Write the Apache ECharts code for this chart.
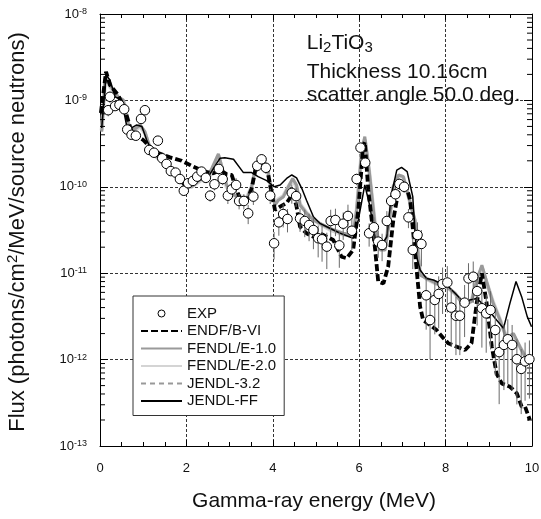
<!DOCTYPE html>
<html>
<head>
<meta charset="utf-8">
<script src="https://cdn.jsdelivr.net/npm/echarts@6/dist/echarts.min.js"></script>
<style>
html, body { margin: 0; padding: 0; background: #fff; }
#chart { width: 541px; height: 519px; }
</style>
</head>
<body>
<div id="chart"></div>
<script>
// measured points (EXP)
var expX = [0.19, 0.23, 0.35, 0.45, 0.56, 0.63, 0.73, 0.83, 0.95, 1.04,
    1.14, 1.25, 1.34, 1.44, 1.54, 1.64, 1.75, 1.85, 1.94, 2.04,
    2.15, 2.25, 2.35, 2.45, 2.55, 2.65, 2.75, 2.84, 2.96, 3.05,
    3.15, 3.22, 3.33, 3.43, 3.55, 3.64, 3.74, 3.84, 3.94, 4.03,
    4.14, 4.24, 4.34, 4.44, 4.54, 4.63, 4.74, 4.84, 4.94, 5.05,
    5.14, 5.25, 5.34, 5.45, 5.54, 5.63, 5.74, 5.83, 5.94, 6.03,
    6.14, 6.23, 6.34, 6.44, 6.53, 6.64, 6.74, 6.84, 6.93, 7.04,
    7.14, 7.24, 7.35, 7.44, 7.55, 7.64, 7.75, 7.84, 7.93, 8.04,
    8.13, 8.24, 8.33, 8.44, 8.53, 8.64, 8.73, 8.84, 8.94, 9.04,
    9.15, 9.24, 9.35, 9.44, 9.54, 9.65, 9.75, 9.84, 9.94]
var expY = [7.7e-10, 1.10e-9, 8.6e-10, 8.9e-10, 7.9e-10, 4.6e-10, 4.0e-10, 3.9e-10, 6.1e-10, 7.7e-10,
    2.67e-10, 2.48e-10, 3.42e-10, 2.14e-10, 1.84e-10, 1.52e-10, 1.46e-10, 1.23e-10, 9.0e-11, 1.10e-10,
    1.17e-10, 1.31e-10, 1.50e-10, 1.27e-10, 7.9e-11, 1.07e-10, 1.61e-10, 1.23e-10, 7.9e-11, 9.35e-11,
    1.05e-10, 6.85e-11, 6.85e-11, 4.93e-11, 7.7e-11, 1.75e-10, 2.08e-10, 1.66e-10, 7.9e-11, 2.22e-11,
    3.88e-11, 4.84e-11, 4.24e-11, 8.5e-11, 7.8e-11, 4.3e-11, 4.02e-11, 3.61e-11, 3.16e-11, 2.54e-11,
    2.47e-11, 2.03e-11, 4.02e-11, 4.13e-11, 2.1e-11, 3.74e-11, 4.6e-11, 3.1e-11, 1.23e-10, 2.84e-10,
    1.90e-10, 2.9e-11, 3.4e-11, 2.32e-11, 2.12e-11, 4.02e-11, 6.85e-11, 8.2e-11, 1.08e-10, 1.0e-10,
    4.43e-11, 1.86e-11, 2.77e-11, 2.18e-11, 5.55e-12, 2.87e-12, 4.9e-12, 5.75e-12, 7.5e-12, 7.8e-12,
    4.0e-12, 3.22e-12, 3.22e-12, 4.56e-12, 8.7e-12, 9.1e-12, 6.2e-12, 3.93e-12, 3.43e-12, 3.75e-12,
    2.2e-12, 1.22e-12, 1.48e-12, 1.72e-12, 1.48e-12, 1.01e-12, 7.8e-13, 9.55e-13, 1.01e-12]
// relative errors of EXP
var expErr = [0.15, 0.15, 0.1, 0.1, 0.1, 0.1, 0.1, 0.1, 0.1, 0.1,
    0.1, 0.1, 0.1, 0.1, 0.1, 0.1, 0.1, 0.1, 0.1, 0.1,
    0.1, 0.1, 0.1, 0.12, 0.15, 0.15, 0.15, 0.15, 0.2, 0.2,
    0.2, 0.2, 0.2, 0.25, 0.2, 0.15, 0.15, 0.15, 0.2, 0.35,
    0.3, 0.3, 0.3, 0.25, 0.25, 0.3, 0.35, 0.35, 0.4, 0.4,
    0.45, 0.45, 0.35, 0.35, 0.45, 0.35, 0.35, 0.4, 0.15, 0.1,
    0.12, 0.3, 0.3, 0.35, 0.35, 0.3, 0.2, 0.2, 0.15, 0.15,
    0.25, 0.4, 0.4, 0.45, 0.6, 0.65, 0.6, 0.6, 0.55, 0.55,
    0.65, 0.65, 0.65, 0.6, 0.5, 0.5, 0.6, 0.65, 0.65, 0.65,
    0.7, 0.75, 0.7, 0.7, 0.7, 0.7, 0.7, 0.65, 0.65]

var endf = [[0.02, 7.15e-10], [0.14, 2.15e-9], [0.23, 1.51e-9], [0.42, 1.155e-9], [0.58, 7.7e-10], [0.73, 4.34e-10],
    [1.0, 3.48e-10], [1.27, 2.55e-10], [1.62, 2.19e-10], [1.89, 2.0e-10], [2.16, 1.71e-10], [2.43, 1.50e-10],
    [2.62, 1.43e-10], [2.78, 1.56e-10], [2.93, 1.4e-10], [3.05, 1.37e-10], [3.16, 9.2e-11], [3.24, 7.4e-11],
    [3.40, 7.0e-11], [3.51, 9.5e-11], [3.61, 1.7e-10], [3.74, 1.9e-10], [3.86, 1.7e-10], [3.97, 8.5e-11],
    [4.05, 5.4e-11], [4.17, 5.9e-11], [4.32, 6.5e-11], [4.47, 8.4e-11], [4.55, 5.9e-11], [4.63, 3.45e-11],
    [4.78, 2.9e-11], [4.94, 2.64e-11], [5.09, 2.9e-11], [5.40, 2.42e-11], [5.59, 1.55e-11], [5.71, 1.49e-11],
    [5.86, 1.86e-11], [5.98, 5.4e-11], [6.09, 2.9e-10], [6.13, 3.3e-10], [6.21, 9.2e-11], [6.37, 1.86e-11],
    [6.44, 8.0e-12], [6.56, 7.6e-12], [6.67, 1.19e-11], [6.79, 4.13e-11], [6.91, 9.2e-11], [7.06, 1.15e-10],
    [7.18, 7.0e-11], [7.33, 1.09e-11], [7.41, 4.1e-12], [7.48, 2.87e-12], [7.64, 2.51e-12], [7.79, 2.2e-12],
    [7.95, 1.77e-12], [8.06, 1.55e-12], [8.26, 1.41e-12], [8.45, 1.29e-12], [8.60, 1.55e-12], [8.72, 4.5e-12],
    [8.84, 1.0e-11], [8.95, 4.5e-12], [9.07, 1.41e-12], [9.18, 6.9e-13], [9.30, 5.3e-13], [9.49, 4.85e-13],
    [9.65, 4.07e-13], [9.76, 2.85e-13], [9.84, 2.85e-13], [9.95, 2.0e-13]]

var fendl1 = [[0.04, 4.34e-10], [0.12, 1.82e-9], [0.23, 1.51e-9], [0.42, 1.10e-9], [0.54, 1.01e-9], [0.66, 5.2e-10],
    [0.77, 4.54e-10], [0.93, 5.2e-10], [1.04, 4.34e-10], [1.16, 2.79e-10], [1.31, 2.23e-10], [1.54, 1.87e-10],
    [1.78, 1.43e-10], [1.97, 1.0e-10], [2.12, 1.0e-10], [2.35, 1.25e-10], [2.47, 1.25e-10], [2.59, 1.64e-10],
    [2.74, 2.4e-10], [2.82, 1.71e-10], [2.93, 1.05e-10], [3.09, 8.1e-11], [3.24, 7.4e-11], [3.40, 7.2e-11],
    [3.51, 1.0e-10], [3.61, 1.79e-10], [3.74, 1.99e-10], [3.86, 1.79e-10], [3.97, 9.2e-11], [4.05, 6.15e-11],
    [4.13, 7.0e-11], [4.24, 7.6e-11], [4.36, 1.0e-10], [4.46, 1.25e-10], [4.55, 1.05e-10], [4.63, 6.15e-11],
    [4.78, 4.93e-11], [4.94, 4.13e-11], [5.09, 3.78e-11], [5.32, 3.31e-11], [5.63, 2.9e-11], [5.86, 2.77e-11],
    [5.94, 5.4e-11], [6.06, 2.67e-10], [6.13, 3.8e-10], [6.23, 1.56e-10], [6.37, 3.45e-11], [6.48, 1.86e-11],
    [6.60, 1.86e-11], [6.70, 4.13e-11], [6.79, 1.0e-10], [6.91, 1.37e-10], [7.02, 1.31e-10], [7.14, 7.7e-11],
    [7.29, 4.13e-11], [7.41, 9.5e-12], [7.56, 8.7e-12], [7.79, 7.6e-12], [8.03, 7.0e-12], [8.22, 5.85e-12],
    [8.41, 4.3e-12], [8.60, 4.68e-12], [8.72, 8.35e-12], [8.84, 1.24e-11], [8.95, 8.0e-12], [9.10, 4.5e-12],
    [9.26, 2.87e-12], [9.41, 1.77e-12], [9.57, 2.01e-12], [9.72, 1.41e-12], [9.84, 1.08e-12], [9.95, 9.9e-13]]

var fendl2 = [[0.04, 4.5e-10], [0.12, 1.75e-9], [0.23, 1.45e-9], [0.42, 1.08e-9], [0.54, 9.8e-10], [0.66, 5.3e-10],
    [0.77, 4.4e-10], [0.93, 5.0e-10], [1.04, 4.2e-10], [1.16, 2.7e-10], [1.31, 2.2e-10], [1.54, 1.85e-10],
    [1.78, 1.4e-10], [1.97, 1.0e-10], [2.12, 1.0e-10], [2.35, 1.2e-10], [2.47, 1.15e-10], [2.59, 1.5e-10],
    [2.74, 2.3e-10], [2.82, 1.65e-10], [2.93, 1.0e-10], [3.09, 8.0e-11], [3.24, 7.8e-11], [3.40, 7.5e-11],
    [3.51, 1.0e-10], [3.61, 1.7e-10], [3.74, 1.95e-10], [3.86, 1.75e-10], [3.97, 9.0e-11], [4.05, 6.5e-11],
    [4.13, 7.2e-11], [4.24, 7.8e-11], [4.36, 1.0e-10], [4.46, 1.2e-10], [4.55, 1.0e-10], [4.63, 6.3e-11],
    [4.78, 5.0e-11], [4.94, 4.2e-11], [5.09, 3.7e-11], [5.32, 3.2e-11], [5.63, 2.8e-11], [5.86, 2.7e-11],
    [5.94, 5.2e-11], [6.06, 2.6e-10], [6.13, 3.5e-10], [6.23, 1.5e-10], [6.37, 3.5e-11], [6.48, 2.0e-11],
    [6.60, 2.0e-11], [6.70, 4.2e-11], [6.79, 1.0e-10], [6.91, 1.35e-10], [7.02, 1.3e-10], [7.14, 7.8e-11],
    [7.29, 4.0e-11], [7.41, 1.0e-11], [7.56, 8.6e-12], [7.79, 7.5e-12], [8.03, 6.9e-12], [8.22, 5.8e-12],
    [8.41, 4.4e-12], [8.60, 4.8e-12], [8.72, 8.0e-12], [8.84, 1.15e-11], [8.95, 7.8e-12], [9.10, 4.6e-12],
    [9.26, 2.9e-12], [9.41, 1.8e-12], [9.57, 1.9e-12], [9.72, 1.4e-12], [9.84, 1.1e-12], [9.95, 1.0e-12]]

var jendl32 = [[0.04, 4.4e-10], [0.12, 1.8e-9], [0.23, 1.5e-9], [0.42, 1.1e-9], [0.54, 1.0e-9], [0.66, 5.2e-10],
    [0.77, 4.5e-10], [0.93, 5.1e-10], [1.04, 4.3e-10], [1.16, 2.8e-10], [1.31, 2.2e-10], [1.54, 1.86e-10],
    [1.78, 1.42e-10], [1.97, 1.0e-10], [2.12, 1.0e-10], [2.35, 1.24e-10], [2.47, 1.22e-10], [2.59, 1.6e-10],
    [2.74, 2.35e-10], [2.82, 1.7e-10], [2.93, 1.04e-10], [3.09, 8.1e-11], [3.24, 7.5e-11], [3.40, 7.3e-11],
    [3.51, 1.0e-10], [3.61, 1.78e-10], [3.74, 1.98e-10], [3.86, 1.78e-10], [3.97, 9.1e-11], [4.05, 6.2e-11],
    [4.13, 7.0e-11], [4.24, 7.6e-11], [4.36, 1.0e-10], [4.46, 1.24e-10], [4.55, 1.04e-10], [4.63, 6.2e-11],
    [4.78, 4.9e-11], [4.94, 4.1e-11], [5.09, 3.75e-11], [5.32, 3.3e-11], [5.63, 2.9e-11], [5.86, 2.75e-11],
    [5.94, 5.3e-11], [6.06, 2.65e-10], [6.13, 3.7e-10], [6.23, 1.55e-10], [6.37, 3.4e-11], [6.48, 1.9e-11],
    [6.60, 1.9e-11], [6.70, 4.1e-11], [6.79, 1.0e-10], [6.91, 1.36e-10], [7.02, 1.3e-10], [7.14, 7.6e-11],
    [7.29, 4.1e-11], [7.41, 9.6e-12], [7.56, 8.7e-12], [7.79, 7.6e-12], [8.03, 7.0e-12], [8.22, 5.8e-12],
    [8.41, 4.3e-12], [8.60, 4.7e-12], [8.72, 8.3e-12], [8.84, 1.22e-11], [8.95, 8.0e-12], [9.10, 4.5e-12],
    [9.26, 2.9e-12], [9.41, 1.8e-12], [9.57, 2.0e-12], [9.72, 1.4e-12], [9.84, 1.08e-12], [9.95, 1.0e-12]]

var jendlff = [[0.04, 4.8e-10], [0.14, 1.97e-9], [0.23, 1.72e-9], [0.35, 1.10e-9], [0.50, 1.01e-9], [0.62, 5.0e-10],
    [0.73, 4.8e-10], [0.85, 5.2e-10], [0.97, 5.0e-10], [1.08, 3.48e-10], [1.23, 2.44e-10], [1.47, 2.04e-10],
    [1.70, 1.56e-10], [1.93, 1.05e-10], [2.08, 1.0e-10], [2.31, 1.20e-10], [2.51, 1.31e-10], [2.70, 1.87e-10],
    [2.78, 2.14e-10], [2.89, 2.17e-10], [3.09, 2.08e-10], [3.32, 1.46e-10], [3.51, 1.46e-10], [3.66, 1.31e-10],
    [3.86, 1.18e-10], [4.03, 1.0e-10], [4.17, 1.05e-10], [4.32, 1.25e-10], [4.44, 1.37e-10], [4.55, 1.27e-10],
    [4.67, 9.6e-11], [4.78, 7.0e-11], [4.94, 4.5e-11], [5.09, 3.78e-11], [5.32, 3.31e-11], [5.56, 2.9e-11],
    [5.86, 2.54e-11], [5.98, 4.13e-11], [6.13, 1.05e-10], [6.25, 5.9e-11], [6.37, 2.42e-11], [6.52, 2.12e-11],
    [6.64, 2.64e-11], [6.75, 8.4e-11], [6.87, 1.56e-10], [6.98, 1.68e-10], [7.11, 1.50e-10], [7.24, 7.7e-11],
    [7.33, 1.55e-11], [7.41, 1.09e-11], [7.56, 8.7e-12], [7.72, 8.35e-12], [7.91, 7.5e-12], [8.06, 7.0e-12],
    [8.22, 5.85e-12], [8.41, 4.68e-12], [8.56, 4.9e-12], [8.72, 5.1e-12], [8.84, 4.5e-12], [8.99, 3.75e-12],
    [9.18, 2.87e-12], [9.34, 2.3e-12], [9.49, 4.5e-12], [9.63, 8.0e-12], [9.76, 5.35e-12], [9.89, 3.14e-12],
    [9.99, 2.4e-12]]

var legendNames = ['EXP', 'ENDF/B-VI', 'FENDL/E-1.0', 'FENDL/E-2.0', 'JENDL-3.2', 'JENDL-FF']
// log minor ticks: 2..9 x 10^n
var decades = [-13, -12, -11, -10, -9]
var minorMult = [2, 3, 4, 5, 6, 7, 8, 9]

var FONT = "'Liberation Sans', Arial, sans-serif"

var minorTicks = []
decades.forEach(function (d) {
    minorMult.forEach(function (m) {
        minorTicks.push([0, m * Math.pow(10, d)])
    })
})

var errData = expX.map(function (x, i) {
    return [x, expY[i] * (1 - expErr[i]), expY[i] * (1 + expErr[i])]
})
var expData = expX.map(function (x, i) { return [x, expY[i]] })

// legend: lines without the symbol dot, small open circle for EXP
var legendData = legendNames.map(function (n) {
    if (n === 'EXP') {
        return { name: n, itemStyle: { color: '#fff', borderColor: '#000', borderWidth: 1 } }
    }
    return { name: n, itemStyle: { opacity: 0 } }
})

var myChart = echarts.init(document.getElementById('chart'))

var axisCommonX = {
    type: 'value',
    min: 0,
    max: 10,
    interval: 2,
    axisLine: { show: true, onZero: false, lineStyle: { color: '#000', width: 1 } },
    axisTick: { show: true, inside: true, length: 6, lineStyle: { color: '#000' } },
    minorTick: { show: true, splitNumber: 4, length: 4, lineStyle: { color: '#000' } }
}

option = {
    animation: false,
    backgroundColor: '#fff',
    grid: { left: 100, top: 14, right: 9, bottom: 73, outerBoundsMode: 'none' },
    legend: {
        data: legendData,
        orient: 'vertical',
        left: 133,
        top: 296,
        itemWidth: 41,
        itemHeight: 7,
        itemGap: 2.5,
        padding: [10, 8, 7, 7],
        borderColor: '#333',
        borderWidth: 1,
        backgroundColor: '#fff',
        selectedMode: false,
        z: 10,
        textStyle: { fontSize: 15, lineHeight: 14, color: '#111', fontFamily: FONT }
    },
    xAxis: [
        Object.assign({}, axisCommonX, {
            position: 'bottom',
            axisLabel: { fontSize: 13, color: '#111', margin: 16, fontFamily: FONT },
            splitLine: { show: true, lineStyle: { color: '#333', type: [3, 2], width: 1 } }
        }),
        Object.assign({}, axisCommonX, {
            position: 'top',
            axisLabel: { show: false },
            splitLine: { show: false }
        })
    ],
    yAxis: [
        {
            type: 'log',
            logBase: 10,
            min: 1e-13,
            max: 1e-8,
            position: 'left',
            axisLine: { show: true, onZero: false, lineStyle: { color: '#000', width: 1 } },
            axisTick: { show: true, inside: true, length: 8, lineStyle: { color: '#000' } },
            axisLabel: {
                margin: 13,
                formatter: function (v) {
                    var e = Math.round(Math.log(v) / Math.LN10)
                    return '{b|10}{e|' + e + '}'
                },
                rich: {
                    b: { fontSize: 13, lineHeight: 14, color: '#111', fontFamily: FONT },
                    e: { fontSize: 9, lineHeight: 8, verticalAlign: 'top', color: '#111', fontFamily: FONT }
                }
            },
            splitLine: { show: true, lineStyle: { color: '#333', type: [3, 2], width: 1 } }
        },
        {
            type: 'log',
            logBase: 10,
            min: 1e-13,
            max: 1e-8,
            position: 'right',
            axisLine: { show: true, onZero: false, lineStyle: { color: '#000', width: 1 } },
            axisTick: { show: true, inside: true, length: 8, lineStyle: { color: '#000' } },
            axisLabel: { show: false },
            splitLine: { show: false }
        }
    ],
    graphic: [
        {
            type: 'text', x: 306.7, y: 31.7, z: 20,
            style: {
                text: '{m|Li}{s|2}{m|TiO}{s|3}',
                verticalAlign: 'top',
                rich: {
                    m: { fontSize: 21, lineHeight: 24, fill: '#111', fontFamily: FONT },
                    s: { fontSize: 15, lineHeight: 10, verticalAlign: 'bottom', fill: '#111', fontFamily: FONT }
                }
            }
        },
        {
            type: 'text', x: 306.7, y: 72.7, z: 20,
            style: { text: 'Thickness 10.16cm', fontSize: 21, fontFamily: FONT, fill: '#111', verticalAlign: 'middle' }
        },
        {
            type: 'text', x: 306.7, y: 95, z: 20,
            style: { text: 'scatter angle 50.0 deg.', fontSize: 21, fontFamily: FONT, fill: '#111', verticalAlign: 'middle' }
        },
        {
            type: 'text', x: 18, y: 232, rotation: Math.PI / 2, z: 20,
            style: {
                text: '{n|Flux (photons/cm}{p|2}{n|/MeV/source neutrons)}',
                align: 'center',
                verticalAlign: 'middle',
                rich: {
                    n: { fontSize: 22, lineHeight: 25, fill: '#111', fontFamily: FONT },
                    p: { fontSize: 15, lineHeight: 10, verticalAlign: 'top', fill: '#111', fontFamily: FONT }
                }
            }
        },
        {
            type: 'text', x: 314, y: 501, z: 20,
            style: { text: 'Gamma-ray energy (MeV)', fontSize: 21, fontFamily: FONT, fill: '#111', align: 'center', verticalAlign: 'middle' }
        }
    ],
    series: [
        {
            // log minor ticks on left and right axes
            type: 'custom',
            silent: true,
            z: 3,
            data: minorTicks,
            encode: { x: 0, y: 1 },
            renderItem: function (params, api) {
                var v = api.value(1)
                var p0 = api.coord([0, v])
                var p1 = api.coord([10, v])
                return {
                    type: 'group',
                    children: [
                        { type: 'line', shape: { x1: p0[0], y1: p0[1], x2: p0[0] + 5, y2: p0[1] }, style: { stroke: '#000', lineWidth: 1 } },
                        { type: 'line', shape: { x1: p1[0] - 5, y1: p1[1], x2: p1[0], y2: p1[1] }, style: { stroke: '#000', lineWidth: 1 } }
                    ]
                }
            }
        },
        {
            name: 'FENDL/E-2.0', type: 'line', data: fendl2, symbol: 'none', z: 2,
            lineStyle: { color: '#d4d4d4', width: 4 }, itemStyle: { color: '#d4d4d4' }
        },
        {
            name: 'FENDL/E-1.0', type: 'line', data: fendl1, symbol: 'none', z: 2,
            lineStyle: { color: '#9a9a9a', width: 3 }, itemStyle: { color: '#9a9a9a' }
        },
        {
            name: 'JENDL-3.2', type: 'line', data: jendl32, symbol: 'none', z: 2,
            lineStyle: { color: '#999', width: 2, type: [5, 4] }, itemStyle: { color: '#999' }
        },
        {
            name: 'JENDL-FF', type: 'line', data: jendlff, symbol: 'none', z: 2,
            lineStyle: { color: '#000', width: 1.5 }, itemStyle: { color: '#000' }
        },
        {
            name: 'ENDF/B-VI', type: 'line', data: endf, symbol: 'none', z: 2,
            lineStyle: { color: '#000', width: 3.8, type: [7, 3] }, itemStyle: { color: '#000' }
        },
        {
            // error bars
            type: 'custom',
            silent: true,
            z: 3,
            data: errData,
            encode: { x: 0, y: [1, 2] },
            renderItem: function (params, api) {
                var lo = api.coord([api.value(0), api.value(1)])
                var hi = api.coord([api.value(0), api.value(2)])
                return {
                    type: 'line',
                    shape: { x1: lo[0], y1: lo[1], x2: hi[0], y2: hi[1] },
                    style: { stroke: '#6a6a6a', lineWidth: 1 }
                }
            }
        },
        {
            name: 'EXP', type: 'scatter', data: expData, symbol: 'circle', symbolSize: 9.5, z: 4,
            itemStyle: { color: '#fff', borderColor: '#000', borderWidth: 1, opacity: 1 }
        }
    ]
}

myChart.setOption(option)
</script>
</body>
</html>
